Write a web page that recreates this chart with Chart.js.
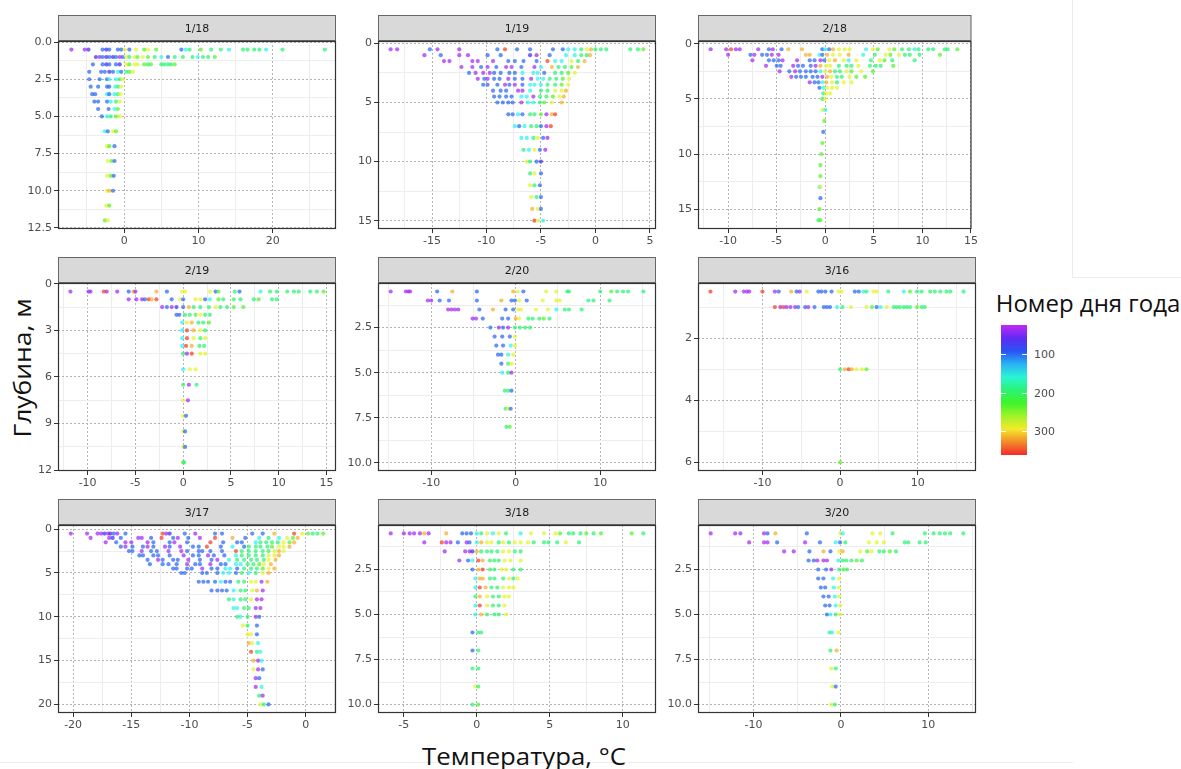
<!DOCTYPE html>
<html>
<head>
<meta charset="utf-8">
<script src="https://cdn.jsdelivr.net/npm/chart.js@4.4.0/dist/chart.umd.min.js"></script>
<style>
  body { margin: 0; background: #fff; width: 1181px; height: 769px; position: relative; overflow: hidden; }
  .panel { position: absolute; }
  .title { position: absolute; font-family: "Open Sans", "Noto Sans", sans-serif; color: #111; white-space: nowrap; }
  #ylab { left: 22px; top: 368px; font-size: 23px; transform: translate(-50%, -50%) rotate(-90deg) scaleX(1.15); }
  #xlab { left: 524px; top: 756px; font-size: 23px; transform: translate(-50%, -50%) scaleX(1.12); }
  #legtitle { left: 1088px; top: 302px; font-size: 24px; transform: translate(-50%, -50%); }
  #bar { position: absolute; left: 1001px; top: 325px; width: 26px; height: 130px; }
  .lab { position: absolute; left: 1034px; font: 11px "DejaVu Sans", sans-serif; color: #4d4d4d; transform: translateY(-50%); }
  .tk { position: absolute; height: 1px; width: 5px; background: #fff; }
  .edge { position: absolute; background: #ececec; }
</style>
</head>
<body>
<div class="edge" style="left:1072px;top:0;width:1px;height:277px"></div>
<div class="edge" style="left:1072px;top:277px;width:109px;height:1px"></div>
<div class="edge" style="left:0;top:762px;width:1073px;height:1px"></div>
<div class="title" id="ylab">Глубина, м</div>
<div class="title" id="xlab">Температура, °C</div>
<div class="title" id="legtitle">Номер дня года</div>
<div id="bar"></div>

<script>
// день года, оценённый по цвету точки
const P = 35, V = 70, B = 100, T = 150, G = 195, L = 235, Y = 285, O = 315, R = 355;

// строки: [глубина, t, день, t, день, ...]
const r1_18 = [
  [0.5, -7.1,P, -5.3,P, -4.8,V, -2.9,B, -2.4,V, -2.0,B, -0.85,B, -0.4,B, 0.1,Y, 0.7,B, 1.6,Y, 2.7,L, 3.2,Y, 4.3,L, 7.7,B, 8.3,T, 8.8,G, 10.3,L, 11.7,G, 13.0,G, 14.1,T, 16.0,G, 16.6,G, 17.5,G, 18.2,G, 19.1,T, 21.3,G, 27.0,G],
  [1.0, -3.8,V, -3.3,P, -2.9,B, -2.4,V, -2.0,B, -1.5,V, -1.1,B, -0.6,P, -0.2,B, 0.3,Y, 0.7,G, 1.4,Y, 1.8,L, 2.5,Y, 3.2,L, 4.1,G, 5.0,T, 5.9,B, 6.8,G, 7.9,G, 9.2,G, 9.9,T, 10.6,G, 11.3,G, 12.2,L],
  [1.5, -4.2,B, -2.9,B, -2.4,V, -2.0,B, -1.1,B, -0.6,V, 0.3,Y, 0.7,L, 1.4,Y, 1.8,Y, 2.7,L, 3.2,G, 3.6,L, 5.0,G, 5.4,G, 5.9,G, 6.3,G, 6.8,L],
  [2.0, -4.7,B, -3.1,B, -2.6,B, -2.0,V, -1.5,B, -0.85,T, -0.4,B, 0.3,G, 0.7,L, 1.2,Y],
  [2.5, -4.7,B, -3.3,B, -2.3,B, -2.0,T, -1.1,T, -0.6,G, -0.2,Y],
  [3.0, -4.5,B, -3.5,B, -2.3,B, -2.0,B, -1.2,T, -0.8,G, -0.4,Y],
  [3.5, -4.3,B, -3.9,B, -2.3,T, -2.0,B, -1.3,T, -0.85,G, -0.5,Y],
  [4.0, -4.0,B, -3.5,B, -2.3,B, -1.8,T, -1.1,G, -0.6,Y],
  [4.5, -3.5,B, -2.1,B, -1.3,T, -0.85,L],
  [5.0, -3.0,B, -2.3,T, -1.8,G, -1.1,L, -0.6,Y],
  [6.0, -2.6,T, -2.2,B, -1.5,Y, -1.1,L],
  [7.0, -2.3,Y, -2.0,L, -1.3,B],
  [8.0, -2.2,Y, -1.7,L, -1.3,B],
  [9.0, -2.3,Y, -1.8,L, -1.4,B],
  [10.0, -2.3,Y, -2.0,O, -1.5,B],
  [11.0, -2.4,Y, -2.0,L],
  [12.0, -2.6,L, -2.2,Y]
];

const r1_19 = [
  [0.5, -18.8,P, -18.2,P, -15.2,B, -14.5,P, -12.5,P, -9.0,B, -8.3,R, -7.2,B, -6.0,B, -3.9,B, -3.0,B, -2.5,T, -1.9,T, -1.3,G, -0.8,Y, -0.4,O, 0.0,G, 0.5,G, 1.0,G, 3.2,G, 3.9,G, 4.4,L],
  [1.0, -15.7,P, -14.2,B, -12.5,P, -11.7,P, -9.9,B, -8.7,B, -6.0,V, -5.4,P, -4.2,B, -2.7,T, -1.9,T, -1.3,G, -0.8,G, -0.5,O],
  [1.5, -13.9,P, -13.4,P, -11.3,P, -10.8,P, -9.4,P, -8.0,B, -7.4,B, -6.6,B, -5.4,B, -4.4,R, -3.7,T, -3.1,T, -2.2,Y, -1.6,G, -1.0,O],
  [2.0, -12.3,P, -11.3,P, -10.5,B, -9.9,P, -9.1,B, -8.2,P, -7.7,P, -6.8,B, -5.6,P, -5.0,T, -4.0,O, -3.4,G, -2.8,G, -2.2,L, -1.6,O],
  [2.5, -11.6,B, -11.0,P, -10.3,P, -9.7,P, -9.3,B, -8.7,B, -7.9,B, -7.4,B, -6.7,T, -5.7,T, -5.3,T, -4.7,B, -3.7,G, -3.1,G, -2.5,L, -1.9,Y],
  [3.0, -10.8,P, -10.2,B, -9.9,P, -9.3,B, -8.8,B, -8.0,P, -7.4,B, -6.7,B, -5.9,P, -5.3,T, -4.8,T, -4.2,G, -3.6,G, -3.0,L, -2.4,Y],
  [3.5, -10.3,B, -9.9,B, -9.0,B, -8.3,P, -7.9,B, -7.4,P, -6.7,B, -6.0,T, -5.6,T, -5.0,T, -4.4,G, -3.7,G, -3.1,L, -2.5,Y],
  [4.0, -9.4,B, -8.7,B, -8.2,B, -7.1,P, -6.7,P, -6.0,T, -5.0,G, -4.4,G, -3.7,Y, -3.1,Y, -2.7,O],
  [4.5, -9.3,B, -8.8,B, -8.2,B, -7.7,B, -6.8,T, -6.3,T, -5.7,P, -5.1,G, -4.5,G, -3.9,L, -3.3,Y, -2.9,O],
  [5.0, -9.0,B, -8.5,B, -8.0,B, -7.6,B, -6.8,P, -6.2,T, -5.7,T, -5.1,G, -4.7,L, -4.0,Y, -3.1,O],
  [6.0, -8.0,B, -7.6,B, -7.1,T, -6.7,B, -6.0,G, -5.6,G, -5.0,L, -4.5,P, -4.0,O, -3.7,R],
  [7.0, -7.4,T, -7.0,B, -6.5,T, -5.9,G, -5.4,G, -5.0,B, -4.5,P, -4.1,R],
  [8.0, -6.8,T, -6.3,T, -5.7,G, -5.3,Y, -4.8,B, -4.4,P],
  [9.0, -6.6,G, -6.1,T, -5.6,Y, -5.1,B, -4.6,P],
  [10.0, -6.3,Y, -6.0,G, -5.4,B, -5.0,V],
  [11.0, -6.0,G, -5.6,Y, -5.0,B],
  [12.0, -6.0,Y, -5.6,G, -5.1,B],
  [13.0, -5.9,Y, -5.4,G, -5.0,B],
  [14.0, -5.8,O, -5.3,Y, -5.0,B],
  [15.0, -5.6,R, -5.3,Y, -4.8,T]
];

const r2_18 = [
  [0.5, -11.8,P, -10.2,P, -9.7,R, -9.2,P, -8.8,P, -6.9,P, -5.8,B, -5.4,P, -4.5,B, -3.8,O, -2.4,O, -0.3,B, 0.0,T, 0.4,B, 0.8,O, 1.4,Y, 2.0,Y, 2.5,Y, 4.2,T, 4.9,Y, 5.4,L, 6.6,Y, 7.1,L, 7.9,G, 8.6,G, 9.2,T, 9.6,G, 10.6,G, 11.1,G, 12.3,G, 12.6,G, 13.6,L],
  [1.0, -10.0,P, -7.7,B, -7.3,P, -6.5,B, -6.0,B, -5.5,P, -4.8,P, -2.0,O, -1.6,O, -0.6,T, -0.3,B, 0.2,O, 0.8,Y, 1.5,Y, 2.4,O, 3.9,T, 5.1,G, 6.2,Y, 6.7,L, 7.6,Y, 8.2,G, 8.7,G, 9.7,G, 11.8,L],
  [1.5, -7.5,P, -5.8,B, -5.3,B, -4.8,B, -4.4,P, -2.9,P, -1.6,B, -1.1,B, -0.5,P, -0.1,B, 0.4,Y, 1.0,O, 1.9,Y, 2.4,T, 3.2,Y, 4.7,G, 5.6,Y, 6.1,L, 6.9,G, 9.2,G],
  [2.0, -6.1,P, -5.0,B, -4.6,B, -3.3,P, -2.8,B, -2.3,B, -1.5,B, -1.0,P, -0.5,O, 0.1,Y, 0.5,Y, 1.4,G, 2.2,G, 2.7,G, 3.4,Y, 4.6,G, 5.2,G, 5.7,G, 7.0,L],
  [2.5, -4.7,P, -3.7,B, -3.1,P, -2.6,B, -2.0,B, -1.5,B, -1.0,B, -0.5,T, 0.0,Y, 0.5,O, 1.0,G, 1.5,G, 2.2,Y, 2.7,L, 3.7,Y, 4.9,L],
  [3.0, -3.5,P, -3.0,B, -2.5,B, -2.0,B, -1.3,B, -0.8,B, -0.3,P, 0.2,O, 0.6,Y, 1.2,G, 1.7,G, 2.5,Y, 3.2,L, 4.1,L],
  [3.5, -1.6,P, -1.1,B, -0.7,B, -0.3,T, 0.1,O, 0.7,Y, 1.2,G, 1.9,Y, 2.7,Y],
  [4.0, -0.6,B, -0.2,T, 0.2,Y, 0.7,Y, 1.2,Y],
  [4.5, -0.2,G, 0.1,Y, 0.5,Y],
  [5.0, -0.3,G, 0.0,Y],
  [6.0, -0.3,Y, 0.0,T],
  [7.0, -0.1,L],
  [8.0, -0.2,B],
  [9.0, -0.3,L],
  [10.0, -0.4,L],
  [11.0, -0.5,L],
  [12.0, -0.5,L],
  [13.0, -0.6,T, -0.5,Y],
  [14.0, -0.5,B],
  [15.0, -0.6,L],
  [16.0, -0.7,G, -0.5,L]
];

const r2_19 = [
  [0.5, -11.8,P, -9.9,P, -9.7,P, -8.3,R, -8.0,P, -6.9,P, -5.7,B, -5.2,O, -5.0,P, -2.8,O, -1.7,B, -0.1,Y, 0.2,Y, 2.8,Y, 3.4,B, 3.7,L, 5.4,G, 5.9,B, 8.1,T, 9.1,G, 9.8,G, 10.9,G, 11.6,G, 12.1,G, 13.3,G, 14.0,G, 14.7,L],
  [1.0, -5.7,P, -4.9,P, -4.3,P, -4.0,B, -3.6,R, -3.3,O, -2.8,R, -1.2,B, -0.3,Y, 0.0,B, 1.3,Y, 1.8,Y, 2.3,B, 2.8,T, 3.7,L, 4.2,G, 5.3,G, 6.0,G, 7.4,G, 7.9,L, 9.3,G, 9.8,G],
  [1.5, -2.2,P, -1.7,B, -1.2,P, -0.7,V, 0.0,B, 0.6,O, 1.1,G, 1.8,G, 2.7,G, 3.4,Y, 3.9,G, 4.6,G, 5.3,L, 6.3,L],
  [2.0, -0.7,B, -0.4,B, 0.2,G, 0.7,G, 1.3,L, 1.8,Y, 2.3,G, 2.8,G],
  [2.5, -0.1,T, 0.4,Y, 0.9,O, 1.6,G, 2.1,G, 2.7,L],
  [3.0, -0.1,T, 0.4,R, 1.1,O, 1.8,Y, 2.3,G],
  [3.5, -0.1,T, 0.4,R, 1.1,Y, 1.8,G, 2.3,Y],
  [4.0, -0.1,T, 0.3,R, 0.9,O, 1.7,G, 2.2,G],
  [4.5, 0.0,G, 0.4,P, 0.9,R, 1.8,Y, 2.3,Y],
  [5.5, 0.0,T, 0.7,Y, 1.3,Y],
  [6.5, 0.0,G, 0.6,P, 1.4,G],
  [7.5, 0.0,Y, 0.5,P],
  [8.5, 0.0,Y, 0.3,B],
  [9.5, 0.0,Y, 0.2,B],
  [10.5, 0.0,Y, 0.2,B],
  [11.5, 0.0,L, 0.1,G]
];

const r2_20 = [
  [0.5, -14.8,P, -13.0,P, -12.7,P, -12.5,P, -9.3,B, -7.5,O, -4.6,B, -0.3,O, 0.2,Y, 0.9,B, 3.6,Y, 4.8,Y, 6.1,G, 6.3,G, 10.0,G, 11.3,L, 12.0,G, 12.7,G, 13.3,G, 15.1,G],
  [1.0, -10.4,P, -10.0,P, -9.0,B, -7.9,B, -4.6,B, -1.7,O, -0.5,B, -0.1,B, 0.4,Y, 1.3,B, 3.2,Y, 4.8,Y, 5.2,Y, 8.6,G, 9.2,G, 11.1,G],
  [1.5, -8.0,P, -7.6,P, -7.2,P, -6.8,P, -4.3,B, -2.7,O, -1.2,B, -0.3,B, 0.3,Y, 0.6,Y, 2.4,Y, 3.8,Y, 4.8,T, 5.8,G, 6.3,G, 7.8,G],
  [2.0, -5.1,P, -4.7,P, -3.9,B, -1.6,B, -0.9,B, 0.0,O, 0.4,Y, 1.5,G, 2.0,G, 2.8,G, 3.3,L, 4.0,G],
  [2.5, -3.0,B, -2.0,P, -1.5,B, -0.9,P, -0.1,G, 0.5,G, 1.1,G, 1.7,G],
  [3.0, -2.5,B, -1.6,B, -0.7,B, -0.1,Y],
  [3.5, -2.3,B, -1.5,B, -0.6,T, -0.1,Y],
  [4.0, -2.1,B, -1.7,B, -0.9,T, -0.3,Y],
  [4.5, -1.7,B, -0.9,G, -0.5,Y],
  [5.0, -1.6,T, -0.9,G, -0.5,P],
  [6.0, -1.3,G, -0.9,G, -0.5,B],
  [7.0, -1.2,G, -0.9,Y, -0.6,B],
  [8.0, -1.1,G, -0.7,L]
];

const r3_16 = [
  [0.5, -16.7,R, -13.5,P, -12.4,P, -12.0,P, -11.7,P, -10.0,R, -8.4,P, -7.9,B, -6.3,O, -5.6,B, -5.2,P, -4.3,Y, -2.8,B, -2.4,B, -1.9,B, -1.1,B, -0.2,Y, 0.2,Y, 1.9,B, 2.4,B, 3.0,T, 3.4,G, 4.3,Y, 4.7,Y, 6.2,G, 8.2,T, 9.0,L, 9.9,G, 10.5,G, 11.6,G, 12.2,G, 12.9,G, 13.7,G, 14.2,G, 15.9,G],
  [1.0, -8.4,R, -7.7,P, -7.3,R, -6.9,P, -6.4,P, -5.8,P, -5.4,B, -4.5,B, -4.1,P, -3.3,B, -2.1,B, -1.7,B, -1.3,B, -0.4,T, 0.3,G, 1.4,Y, 3.4,Y, 4.1,L, 4.7,B, 5.2,T, 6.0,Y, 6.9,G, 7.3,G, 7.7,G, 8.2,G, 8.6,G, 9.0,G, 9.9,L, 10.5,G, 10.9,G],
  [3.0, 0.0,G, 0.6,O, 1.1,R, 1.5,O, 2.1,Y, 2.8,Y, 3.4,L],
  [6.0, 0.0,L]
];

const r3_17 = [
  [0.5, -20.2,P, -18.8,P, -17.9,P, -17.6,P, -17.3,V, -17.0,P, -16.8,V, -16.5,B, -16.2,P, -15.5,B, -12.3,R, -12.0,P, -11.7,V, -10.4,B, -9.5,P, -7.8,B, -7.2,B, -4.6,B, -3.7,B, -2.7,O, -1.0,R, -0.3,Y, 0.2,L, 0.6,G, 1.0,G, 1.5,L],
  [1.0, -18.5,P, -16.9,P, -16.6,V, -15.9,B, -14.4,P, -14.1,P, -13.3,B, -12.4,R, -11.4,B, -11.0,P, -10.1,B, -9.1,P, -7.8,R, -6.3,O, -5.2,B, -4.0,T, -3.2,G, -2.3,T, -1.6,Y, -1.1,L, -0.7,O],
  [1.5, -17.2,P, -16.3,B, -15.5,P, -15.0,P, -13.6,P, -13.1,B, -11.7,B, -11.3,P, -10.2,B, -8.2,R, -7.1,B, -5.9,B, -5.5,B, -4.3,T, -3.9,G, -3.4,G, -2.9,G, -2.4,G, -1.9,Y, -1.4,L, -1.0,O],
  [2.0, -15.9,B, -15.5,P, -14.9,B, -14.0,B, -13.6,P, -13.1,B, -12.1,P, -11.7,B, -10.8,P, -9.7,B, -9.2,B, -8.5,R, -7.3,B, -6.3,T, -5.3,B, -4.9,G, -4.3,G, -3.9,G, -3.3,G, -2.9,L, -2.3,Y, -1.9,Y, -1.4,O],
  [2.5, -15.2,B, -14.9,B, -14.1,P, -13.3,B, -12.8,B, -11.8,P, -10.7,P, -10.2,B, -9.2,B, -8.9,B, -8.2,B, -7.2,B, -6.0,R, -5.5,G, -4.9,G, -4.3,G, -3.7,G, -3.2,G, -2.7,Y, -2.3,O, -1.9,Y],
  [3.0, -14.3,B, -14.0,B, -13.1,B, -12.7,B, -11.7,B, -10.5,P, -9.7,B, -9.2,B, -8.4,P, -7.9,B, -7.0,B, -6.0,T, -5.5,G, -4.9,G, -4.3,G, -3.7,G, -3.2,Y, -2.7,Y, -2.3,O],
  [3.5, -13.6,B, -12.7,P, -12.3,B, -11.4,B, -11.0,B, -10.1,P, -9.1,B, -8.1,B, -7.6,P, -6.6,T, -5.9,G, -5.3,G, -4.7,G, -4.2,G, -3.6,G, -3.2,Y, -2.6,O],
  [4.0, -13.4,B, -12.3,B, -11.8,B, -11.1,B, -10.2,P, -9.5,B, -9.1,B, -8.2,P, -7.3,B, -6.9,B, -6.0,T, -5.6,T, -5.0,G, -4.5,G, -4.0,L, -3.6,Y, -3.0,O],
  [4.5, -11.4,B, -11.1,B, -10.2,B, -9.8,B, -8.9,P, -8.1,B, -7.6,B, -6.9,T, -6.5,T, -5.9,B, -5.3,G, -4.7,G, -4.2,G, -3.7,L, -3.2,Y, -2.7,O],
  [5.0, -10.7,B, -10.4,B, -8.9,B, -8.5,B, -7.6,B, -7.1,T, -6.6,T, -6.0,B, -5.5,G, -4.9,T, -4.3,G, -3.7,Y, -3.2,O],
  [6.0, -9.2,B, -8.8,B, -8.4,B, -7.8,B, -7.3,T, -6.9,B, -6.5,B, -5.8,G, -5.3,G, -4.7,Y, -4.3,Y, -3.8,P, -3.3,O],
  [7.0, -8.1,B, -7.6,B, -7.2,B, -6.8,B, -6.2,T, -5.6,G, -5.2,G, -4.6,Y, -4.2,O, -3.7,P],
  [8.0, -6.6,G, -6.2,T, -5.6,G, -5.2,G, -4.7,Y, -4.2,P, -3.8,P],
  [9.0, -6.2,T, -5.9,T, -5.3,G, -4.9,G, -4.3,P, -3.9,P],
  [10.0, -5.9,G, -5.6,T, -5.0,G, -4.3,P, -4.0,B],
  [11.0, -5.4,Y, -5.0,G, -4.2,B],
  [12.0, -5.0,Y, -4.7,Y, -4.2,B],
  [13.0, -4.9,O, -4.6,Y, -4.1,T],
  [14.0, -4.7,R, -4.2,G, -3.9,T],
  [15.0, -4.5,O, -4.1,P, -3.8,T],
  [16.0, -4.5,Y, -4.1,P, -3.7,B],
  [17.0, -4.3,P, -4.0,B],
  [18.0, -4.3,P, -3.8,T],
  [19.0, -4.0,G, -3.7,P],
  [20.0, -3.9,Y, -3.6,G, -3.2,B]
];

const r3_18 = [
  [0.5, -5.9,P, -5.0,P, -4.6,P, -4.3,P, -3.9,P, -3.6,O, -3.3,P, -2.1,O, -1.0,B, -0.7,B, -0.4,B, 0.0,T, 0.3,G, 0.7,Y, 1.1,T, 1.5,Y, 2.0,G, 3.0,T, 3.7,Y, 4.6,Y, 5.4,Y, 5.7,L, 6.3,G, 6.6,G, 7.1,G, 7.5,L, 8.0,G, 8.5,L, 10.6,L, 11.4,G],
  [1.0, -3.6,P, -2.4,R, -2.1,P, -1.8,P, -1.3,B, -0.7,P, -0.5,B, 0.0,T, 0.3,O, 0.7,Y, 1.0,Y, 1.5,G, 1.8,Y, 2.2,G, 2.6,Y, 3.0,Y, 3.5,Y, 3.9,G, 4.6,G, 4.9,G, 5.5,G, 6.1,Y, 7.0,G],
  [1.5, -2.2,P, -0.8,P, -0.5,P, -0.3,V, 0.0,O, 0.3,G, 0.7,G, 1.0,G, 1.4,G, 1.8,Y, 2.2,Y, 2.6,G, 3.0,G],
  [2.0, -1.2,P, -0.6,B, -0.3,T, 0.1,R, 0.4,O, 0.9,G, 1.2,G, 1.5,G, 1.9,Y, 2.3,Y, 3.0,Y],
  [2.5, -0.3,B, 0.1,O, 0.4,R, 0.9,G, 1.2,G, 1.7,Y, 2.0,Y, 2.5,G, 3.0,G],
  [3.0, -0.1,T, 0.2,O, 0.4,O, 0.9,G, 1.2,G, 1.8,G, 2.2,Y, 2.5,G, 2.8,Y],
  [3.5, -0.1,T, 0.2,R, 0.6,O, 1.0,G, 1.4,G, 1.8,Y, 2.2,Y, 2.5,Y],
  [4.0, -0.1,G, 0.2,O, 0.7,Y, 1.1,G, 1.5,G, 1.9,Y, 2.2,Y],
  [4.5, -0.1,T, 0.2,R, 0.7,Y, 1.1,G, 1.5,G, 1.9,Y],
  [5.0, -0.1,T, 0.3,O, 0.7,G, 1.2,G, 1.5,G, 2.0,Y],
  [6.0, -0.3,B, 0.1,G, 0.3,G],
  [7.0, -0.3,B, 0.1,G],
  [8.0, -0.3,G, 0.1,G],
  [9.0, -0.1,Y, 0.1,G],
  [10.0, -0.3,G, 0.1,L]
];

const r3_20 = [
  [0.5, -14.9,P, -12.1,P, -11.5,P, -8.8,P, -8.4,B, -7.5,O, -3.9,B, -0.1,Y, 0.2,T, 3.6,Y, 4.5,Y, 5.9,G, 9.6,G, 10.6,G, 11.3,G, 11.9,G, 12.5,G, 14.0,G],
  [1.0, -10.5,P, -8.8,P, -8.4,P, -7.3,B, -4.1,P, -2.4,B, -0.6,T, -0.1,B, 0.5,G, 3.2,Y, 4.1,Y, 4.9,Y, 7.3,G, 7.7,G, 9.0,G, 9.7,G],
  [1.5, -6.5,P, -5.4,P, -3.6,B, -2.0,O, -1.2,B, -0.2,Y, 0.2,O, 2.2,Y, 3.0,L, 3.5,Y, 4.4,G, 4.9,G, 5.6,L, 6.3,G],
  [2.0, -3.7,B, -3.1,B, -2.7,P, -2.0,P, -1.6,P, -0.3,T, 0.2,G, 0.6,G, 1.2,G, 1.8,L, 2.4,G],
  [2.5, -2.6,B, -1.7,B, -1.1,P, -0.2,G, 0.3,L, 0.7,G],
  [3.0, -2.6,B, -2.0,B, -0.9,T, -0.2,Y],
  [3.5, -2.3,B, -1.8,B, -0.8,T, -0.2,Y],
  [4.0, -2.0,B, -1.4,B, -0.7,T, -0.2,Y],
  [4.5, -1.8,B, -1.3,B, -0.6,T, -0.1,Y],
  [5.0, -1.6,B, -1.2,T, -0.6,G, -0.1,Y],
  [6.0, -1.3,G, -1.0,T, -0.3,Y],
  [7.0, -1.2,G, -0.5,O],
  [8.0, -1.1,Y, -0.6,G],
  [9.0, -1.0,Y, -0.6,B],
  [10.0, -1.1,Y, -0.7,G]
];

// шкала цвета (день года)
const dayMin = 25, dayMax = 362;
const legendTicks = [100, 200, 300];

const panels = [
  { label: '1/18', rows: r1_18, col: 0, row: 0, x: [-8.9, 28.5], xs: 10, y: [-0.075, 12.575], ys: 2.5, yd: 1 },
  { label: '1/19', rows: r1_19, col: 1, row: 0, x: [-19.96, 5.56], xs: 5, y: [-0.2, 15.7], ys: 5, yd: 0 },
  { label: '2/18', rows: r2_18, col: 2, row: 0, x: [-13.1, 15.05], xs: 5, y: [-0.25, 16.8], ys: 5, yd: 0 },
  { label: '2/19', rows: r2_19, col: 0, row: 1, x: [-13.1, 16.0], xs: 5, y: [-0.05, 12.05], ys: 3, yd: 0 },
  { label: '2/20', rows: r2_20, col: 1, row: 1, x: [-16.3, 16.6], xs: 10, y: [0.03, 10.45], ys: 2.5, yd: 1 },
  { label: '3/16', rows: r3_16, col: 2, row: 1, x: [-18.3, 17.5], xs: 10, y: [0.225, 6.275], ys: 2, yd: 0 },
  { label: '3/17', rows: r3_17, col: 0, row: 2, x: [-21.3, 2.6], xs: 5, y: [-0.475, 20.975], ys: 5, yd: 0 },
  { label: '3/18', rows: r3_18, col: 1, row: 2, x: [-6.77, 12.27], xs: 5, y: [0.03, 10.47], ys: 2.5, yd: 1 },
  { label: '3/20', rows: r3_20, col: 2, row: 2, x: [-16.35, 15.45], xs: 10, y: [0.03, 10.47], ys: 2.5, yd: 1 }
];

const colLeft = [58, 378, 698];
const rowTop = [41, 283, 525];
const plotW = 278, plotH = 188, stripH = 26;
const padL = 50, padR = 4, padB = 24;

function dayColor(d, a) {
  const t = Math.min(1, Math.max(0, (d - dayMin) / (dayMax - dayMin)));
  const hue = 285 * (1 - t);
  return 'hsla(' + hue.toFixed(1) + ', 90%, 56%, ' + a + ')';
}

function makeTicks(min, max, step) {
  const half = step / 2, out = [];
  for (let k = Math.ceil(min / half - 1e-9); k * half <= max + 1e-9; k++) {
    out.push({ value: +(k * half).toFixed(4), major: k % 2 === 0 });
  }
  return out;
}

const stripPlugin = {
  id: 'strip',
  afterDraw(chart, args, opts) {
    const { ctx, chartArea: a } = chart;
    const w = a.right - a.left;
    ctx.save();
    ctx.fillStyle = '#d9d9d9';
    ctx.fillRect(a.left, a.top - stripH, w, stripH);
    ctx.strokeStyle = '#666';
    ctx.lineWidth = 1;
    ctx.strokeRect(a.left + 0.5, a.top - stripH + 0.5, w - 1, stripH - 1);
    ctx.strokeStyle = '#333';
    ctx.lineWidth = 1.2;
    ctx.strokeRect(a.left + 0.5, a.top + 0.5, w - 1, a.bottom - a.top - 1);
    ctx.fillStyle = '#1a1a1a';
    ctx.font = '11px "DejaVu Sans", sans-serif';
    ctx.textAlign = 'center';
    ctx.textBaseline = 'middle';
    ctx.fillText(opts.label, a.left + w / 2, a.top - stripH / 2 + 1);
    ctx.restore();
  }
};

function axis(range, step, dec, extra) {
  return Object.assign({
    type: 'linear',
    min: range[0],
    max: range[1],
    afterBuildTicks: s => { s.ticks = makeTicks(s.min, s.max, step); },
    ticks: {
      autoSkip: false,
      maxRotation: 0,
      padding: 2,
      color: '#4d4d4d',
      font: { family: '"DejaVu Sans", sans-serif', size: 11 },
      callback: (v, i, ticks) => ticks[i].major ? v.toFixed(dec) : ''
    },
    grid: {
      drawTicks: true,
      tickLength: 4,
      lineWidth: 1,
      color: c => c.tick && c.tick.major ? '#b3b3b3' : '#ededed',
      tickColor: c => c.tick && c.tick.major ? '#333' : 'rgba(0,0,0,0)'
    },
    border: { display: false, dash: c => c.tick && c.tick.major ? [2, 2] : [] }
  }, extra);
}

panels.forEach(p => {
  const W = padL + plotW + padR, H = stripH + plotH + padB;
  const cv = document.createElement('canvas');
  cv.className = 'panel';
  cv.width = W; cv.height = H;
  cv.style.left = (colLeft[p.col] - padL) + 'px';
  cv.style.top = (rowTop[p.row] - stripH) + 'px';
  cv.style.width = W + 'px'; cv.style.height = H + 'px';
  document.body.appendChild(cv);

  const pts = [], cols = [];
  p.rows.forEach(r => {
    for (let i = 1; i < r.length; i += 2) {
      pts.push({ x: r[i], y: r[0] });
      cols.push(dayColor(r[i + 1], 0.72));
    }
  });

  new Chart(cv, {
    type: 'scatter',
    data: { datasets: [{ data: pts, pointBackgroundColor: cols, pointBorderColor: cols, pointBorderWidth: 0, pointRadius: 2.1 }] },
    options: {
      responsive: false,
      animation: false,
      events: [],
      layout: { padding: { top: stripH, right: padR, left: 0, bottom: 0 } },
      plugins: { legend: { display: false }, tooltip: { enabled: false }, strip: { label: p.label } },
      scales: {
        x: axis(p.x, p.xs, 0, { afterFit: s => { s.height = padB; } }),
        y: axis(p.y, p.ys, p.yd, { reverse: true, afterFit: s => { s.width = padL; } })
      }
    },
    plugins: [stripPlugin]
  });
});

// цветовая шкала легенды
const bar = document.getElementById('bar');
const stops = [];
for (let i = 0; i <= 10; i++) {
  const d = dayMin + (dayMax - dayMin) * i / 10;
  stops.push(dayColor(d, 1) + ' ' + (i * 10) + '%');
}
bar.style.background = 'linear-gradient(to bottom, ' + stops.join(', ') + ')';
legendTicks.forEach(d => {
  const y = 325 + (d - dayMin) / (dayMax - dayMin) * 130;
  const lab = document.createElement('div');
  lab.className = 'lab';
  lab.style.top = y + 'px';
  lab.textContent = d;
  document.body.appendChild(lab);
  ['1001px', '1022px'].forEach(x => {
    const tk = document.createElement('div');
    tk.className = 'tk';
    tk.style.left = x; tk.style.top = y + 'px';
    document.body.appendChild(tk);
  });
});
</script>
</body>
</html>
